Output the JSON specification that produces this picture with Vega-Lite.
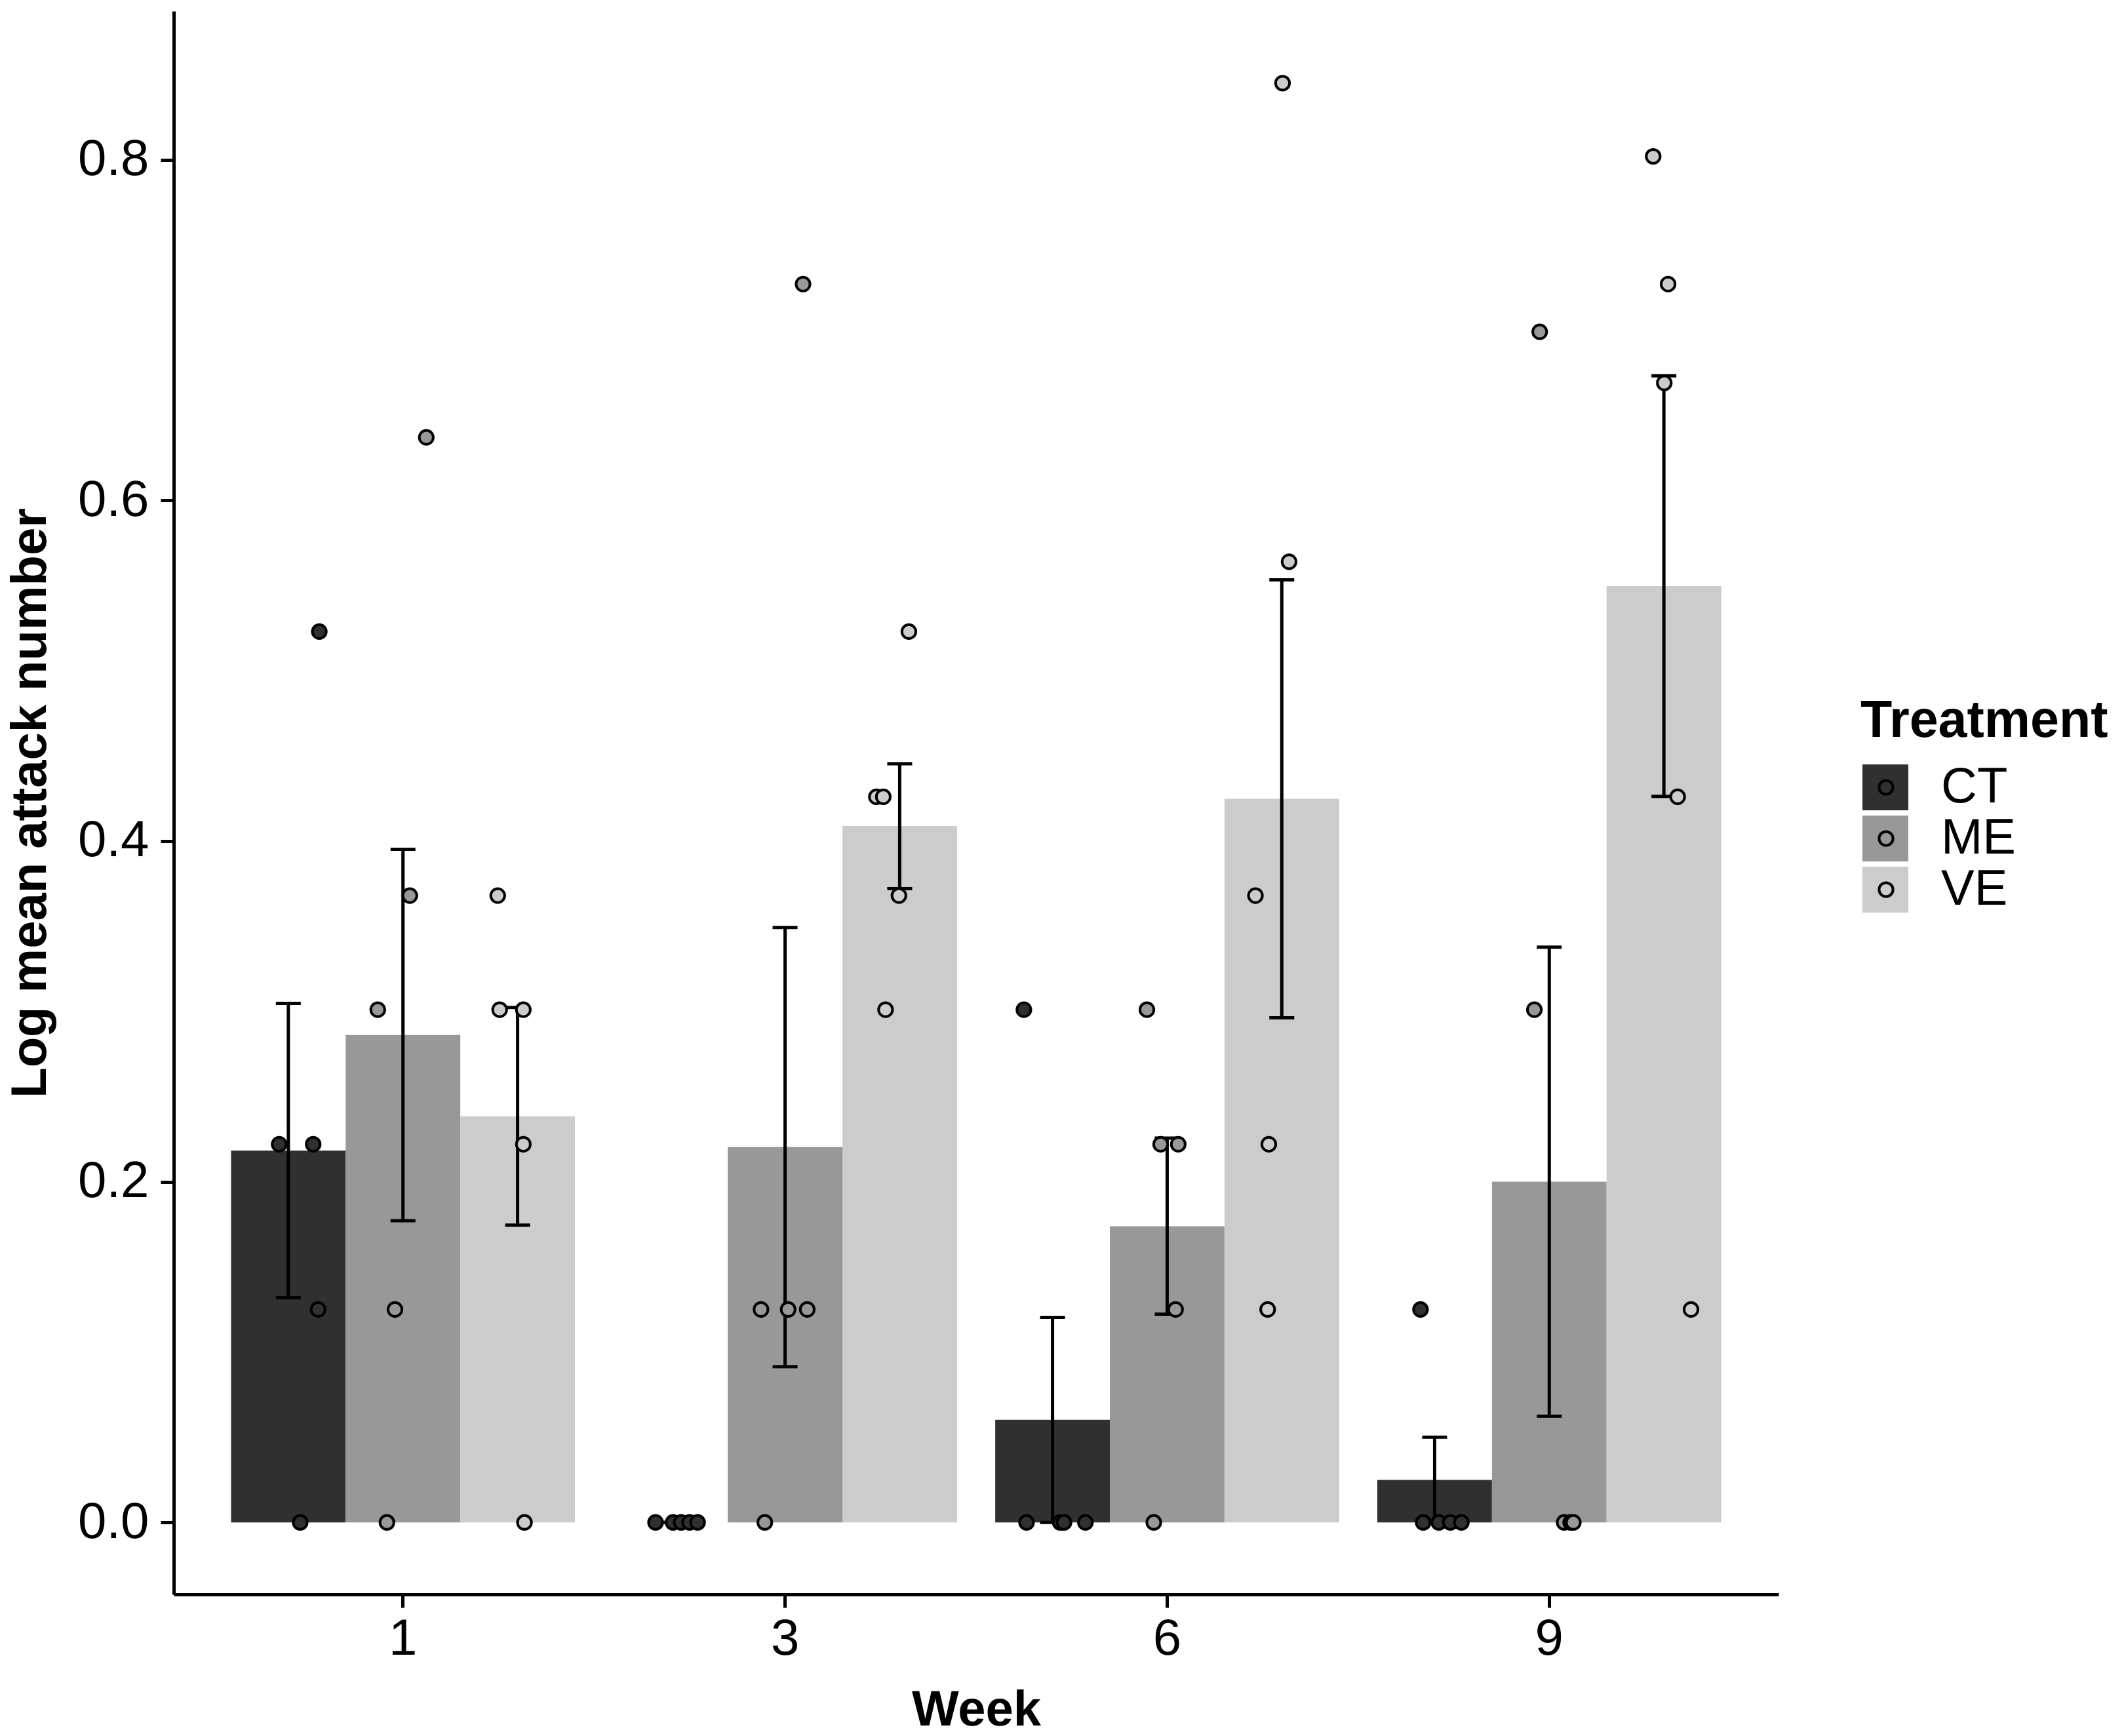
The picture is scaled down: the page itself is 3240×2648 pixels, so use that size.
{
  "$schema": "https://vega.github.io/schema/vega-lite/v6.json",
  "width": 2448,
  "height": 2415,
  "autosize": {"type": "none"},
  "padding": {"left": 265, "top": 17, "right": 527, "bottom": 216},
  "background": "white",
  "datasets": {
    "summary": [
      {"Week": "1", "Treatment": "CT", "mean": 0.2183, "lo": 0.1319, "hi": 0.3047},
      {"Week": "1", "Treatment": "ME", "mean": 0.2862, "lo": 0.1771, "hi": 0.3952},
      {"Week": "1", "Treatment": "VE", "mean": 0.2384, "lo": 0.1745, "hi": 0.3023},
      {"Week": "3", "Treatment": "CT", "mean": 0.0, "lo": 0.0, "hi": 0.0},
      {"Week": "3", "Treatment": "ME", "mean": 0.2204, "lo": 0.0914, "hi": 0.3493},
      {"Week": "3", "Treatment": "VE", "mean": 0.4088, "lo": 0.3721, "hi": 0.4454},
      {"Week": "6", "Treatment": "CT", "mean": 0.0602, "lo": 0.0, "hi": 0.1204},
      {"Week": "6", "Treatment": "ME", "mean": 0.1739, "lo": 0.1223, "hi": 0.2256},
      {"Week": "6", "Treatment": "VE", "mean": 0.4248, "lo": 0.2963, "hi": 0.5534},
      {"Week": "9", "Treatment": "CT", "mean": 0.025, "lo": 0.0, "hi": 0.05},
      {"Week": "9", "Treatment": "ME", "mean": 0.2, "lo": 0.0623, "hi": 0.3377},
      {"Week": "9", "Treatment": "VE", "mean": 0.5497, "lo": 0.4263, "hi": 0.6732}
    ],
    "points": [
      {"Week": "1", "Treatment": "CT", "value": 0.222, "pos": 0.676},
      {"Week": "1", "Treatment": "CT", "value": 0.222, "pos": 0.765},
      {"Week": "1", "Treatment": "CT", "value": 0.523, "pos": 0.781},
      {"Week": "1", "Treatment": "CT", "value": 0.125, "pos": 0.778},
      {"Week": "1", "Treatment": "CT", "value": 0.0, "pos": 0.731},
      {"Week": "1", "Treatment": "ME", "value": 0.301, "pos": 0.934},
      {"Week": "1", "Treatment": "ME", "value": 0.368, "pos": 1.018},
      {"Week": "1", "Treatment": "ME", "value": 0.637, "pos": 1.061},
      {"Week": "1", "Treatment": "ME", "value": 0.125, "pos": 0.979},
      {"Week": "1", "Treatment": "ME", "value": 0.0, "pos": 0.958},
      {"Week": "1", "Treatment": "VE", "value": 0.368, "pos": 1.248},
      {"Week": "1", "Treatment": "VE", "value": 0.301, "pos": 1.253},
      {"Week": "1", "Treatment": "VE", "value": 0.301, "pos": 1.315},
      {"Week": "1", "Treatment": "VE", "value": 0.222, "pos": 1.315},
      {"Week": "1", "Treatment": "VE", "value": 0.0, "pos": 1.318},
      {"Week": "3", "Treatment": "CT", "value": 0.0, "pos": 1.661},
      {"Week": "3", "Treatment": "CT", "value": 0.0, "pos": 1.707},
      {"Week": "3", "Treatment": "CT", "value": 0.0, "pos": 1.728},
      {"Week": "3", "Treatment": "CT", "value": 0.0, "pos": 1.75},
      {"Week": "3", "Treatment": "CT", "value": 0.0, "pos": 1.771},
      {"Week": "3", "Treatment": "ME", "value": 0.0, "pos": 1.947},
      {"Week": "3", "Treatment": "ME", "value": 0.125, "pos": 1.937},
      {"Week": "3", "Treatment": "ME", "value": 0.125, "pos": 2.008},
      {"Week": "3", "Treatment": "ME", "value": 0.125, "pos": 2.058},
      {"Week": "3", "Treatment": "ME", "value": 0.727, "pos": 2.047},
      {"Week": "3", "Treatment": "VE", "value": 0.426, "pos": 2.239},
      {"Week": "3", "Treatment": "VE", "value": 0.426, "pos": 2.257},
      {"Week": "3", "Treatment": "VE", "value": 0.523, "pos": 2.324},
      {"Week": "3", "Treatment": "VE", "value": 0.368, "pos": 2.298},
      {"Week": "3", "Treatment": "VE", "value": 0.301, "pos": 2.263},
      {"Week": "6", "Treatment": "CT", "value": 0.301, "pos": 2.625},
      {"Week": "6", "Treatment": "CT", "value": 0.0, "pos": 2.632},
      {"Week": "6", "Treatment": "CT", "value": 0.0, "pos": 2.72},
      {"Week": "6", "Treatment": "CT", "value": 0.0, "pos": 2.73},
      {"Week": "6", "Treatment": "CT", "value": 0.0, "pos": 2.786},
      {"Week": "6", "Treatment": "ME", "value": 0.301, "pos": 2.947},
      {"Week": "6", "Treatment": "ME", "value": 0.222, "pos": 2.983},
      {"Week": "6", "Treatment": "ME", "value": 0.222, "pos": 3.029},
      {"Week": "6", "Treatment": "ME", "value": 0.125, "pos": 3.022},
      {"Week": "6", "Treatment": "ME", "value": 0.0, "pos": 2.965},
      {"Week": "6", "Treatment": "VE", "value": 0.845, "pos": 3.302},
      {"Week": "6", "Treatment": "VE", "value": 0.564, "pos": 3.319},
      {"Week": "6", "Treatment": "VE", "value": 0.368, "pos": 3.231},
      {"Week": "6", "Treatment": "VE", "value": 0.222, "pos": 3.266},
      {"Week": "6", "Treatment": "VE", "value": 0.125, "pos": 3.263},
      {"Week": "9", "Treatment": "CT", "value": 0.125, "pos": 3.663},
      {"Week": "9", "Treatment": "CT", "value": 0.0, "pos": 3.67},
      {"Week": "9", "Treatment": "CT", "value": 0.0, "pos": 3.711},
      {"Week": "9", "Treatment": "CT", "value": 0.0, "pos": 3.741},
      {"Week": "9", "Treatment": "CT", "value": 0.0, "pos": 3.77},
      {"Week": "9", "Treatment": "ME", "value": 0.699, "pos": 3.975},
      {"Week": "9", "Treatment": "ME", "value": 0.301, "pos": 3.961},
      {"Week": "9", "Treatment": "ME", "value": 0.0, "pos": 4.039},
      {"Week": "9", "Treatment": "ME", "value": 0.0, "pos": 4.056},
      {"Week": "9", "Treatment": "ME", "value": 0.0, "pos": 4.063},
      {"Week": "9", "Treatment": "VE", "value": 0.802, "pos": 4.272},
      {"Week": "9", "Treatment": "VE", "value": 0.727, "pos": 4.311},
      {"Week": "9", "Treatment": "VE", "value": 0.669, "pos": 4.301},
      {"Week": "9", "Treatment": "VE", "value": 0.426, "pos": 4.336},
      {"Week": "9", "Treatment": "VE", "value": 0.125, "pos": 4.371}
    ]
  },
  "layer": [
    {
      "data": {"name": "summary"},
      "encoding": {
        "x": {
          "field": "Week",
          "type": "nominal",
          "title": "Week",
          "scale": {"paddingInner": 0.1, "paddingOuter": 0.15},
          "axis": {"labelAngle": 0}
        },
        "xOffset": {
          "field": "Treatment",
          "type": "nominal",
          "scale": {"paddingInner": 0, "paddingOuter": 0}
        }
      },
      "layer": [
        {
          "mark": {"type": "bar", "opacity": 1},
          "encoding": {
            "y": {
              "field": "mean",
              "type": "quantitative",
              "title": "Log mean attack number",
              "scale": {"domain": [-0.04225, 0.88725], "nice": false, "zero": false},
              "axis": {"values": [0, 0.2, 0.4, 0.6, 0.8], "format": ".1f"}
            },
            "fill": {
              "field": "Treatment",
              "type": "nominal",
              "scale": {"range": ["#303030", "#989898", "#cccccc"]},
              "legend": {
                "title": "Treatment",
                "orient": "none",
                "legendX": 2573,
                "legendY": 1045,
                "symbolType": "square",
                "symbolSize": 4900,
                "symbolStrokeWidth": 0,
                "symbolOpacity": 1
              }
            }
          }
        },
        {
          "mark": {"type": "rule", "color": "black", "strokeWidth": 5},
          "encoding": {
            "y": {"field": "lo", "type": "quantitative", "title": "Log mean attack number"},
            "y2": {"field": "hi"}
          }
        },
        {
          "mark": {"type": "tick", "orient": "horizontal", "color": "black", "size": 38, "thickness": 5, "opacity": 1},
          "encoding": {
            "y": {"field": "lo", "type": "quantitative", "title": "Log mean attack number"}
          }
        },
        {
          "mark": {"type": "tick", "orient": "horizontal", "color": "black", "size": 38, "thickness": 5, "opacity": 1},
          "encoding": {
            "y": {"field": "hi", "type": "quantitative", "title": "Log mean attack number"}
          }
        }
      ]
    },
    {
      "data": {"name": "points"},
      "mark": {"type": "point", "filled": true, "size": 450, "stroke": "black", "strokeWidth": 4, "opacity": 1},
      "encoding": {
        "x": {
          "field": "pos",
          "type": "quantitative",
          "scale": {"domain": [0.4, 4.6], "nice": false, "zero": false},
          "axis": null
        },
        "y": {"field": "value", "type": "quantitative", "title": "Log mean attack number"},
        "fill": {"field": "Treatment", "type": "nominal"},
        "shape": {
          "field": "Treatment",
          "type": "nominal",
          "scale": {"domain": ["CT", "ME", "VE"], "range": ["circle", "circle", "circle"]},
          "legend": {
            "title": null,
            "orient": "none",
            "legendX": 2574,
            "legendY": 1146,
            "labelExpr": "''",
            "symbolSize": 450,
            "symbolFillColor": "transparent",
            "symbolStrokeColor": "black",
            "symbolStrokeWidth": 4
          }
        }
      }
    }
  ],
  "resolve": {"scale": {"x": "independent"}, "axis": {"x": "independent"}},
  "config": {
    "font": "Liberation Sans",
    "view": {"stroke": null},
    "axis": {
      "grid": false,
      "domainColor": "black",
      "domainWidth": 5,
      "tickColor": "black",
      "tickWidth": 5,
      "tickSize": 20,
      "labelFont": "Liberation Sans",
      "labelFontSize": 78,
      "labelColor": "black",
      "titleFont": "Liberation Sans",
      "titleFontSize": 76,
      "titleFontWeight": "bold",
      "titleColor": "black"
    },
    "axisX": {"labelPadding": 9, "titlePadding": 32},
    "axisY": {"labelPadding": 18, "titlePadding": 33},
    "legend": {
      "padding": 0,
      "titleFont": "Liberation Sans",
      "titleFontSize": 79,
      "titleFontWeight": "bold",
      "titleColor": "black",
      "titleLimit": 1000,
      "labelFont": "Liberation Sans",
      "labelFontSize": 76,
      "labelColor": "black",
      "labelLimit": 1000,
      "rowPadding": 2,
      "titlePadding": 22,
      "labelOffset": 47
    }
  }
}
